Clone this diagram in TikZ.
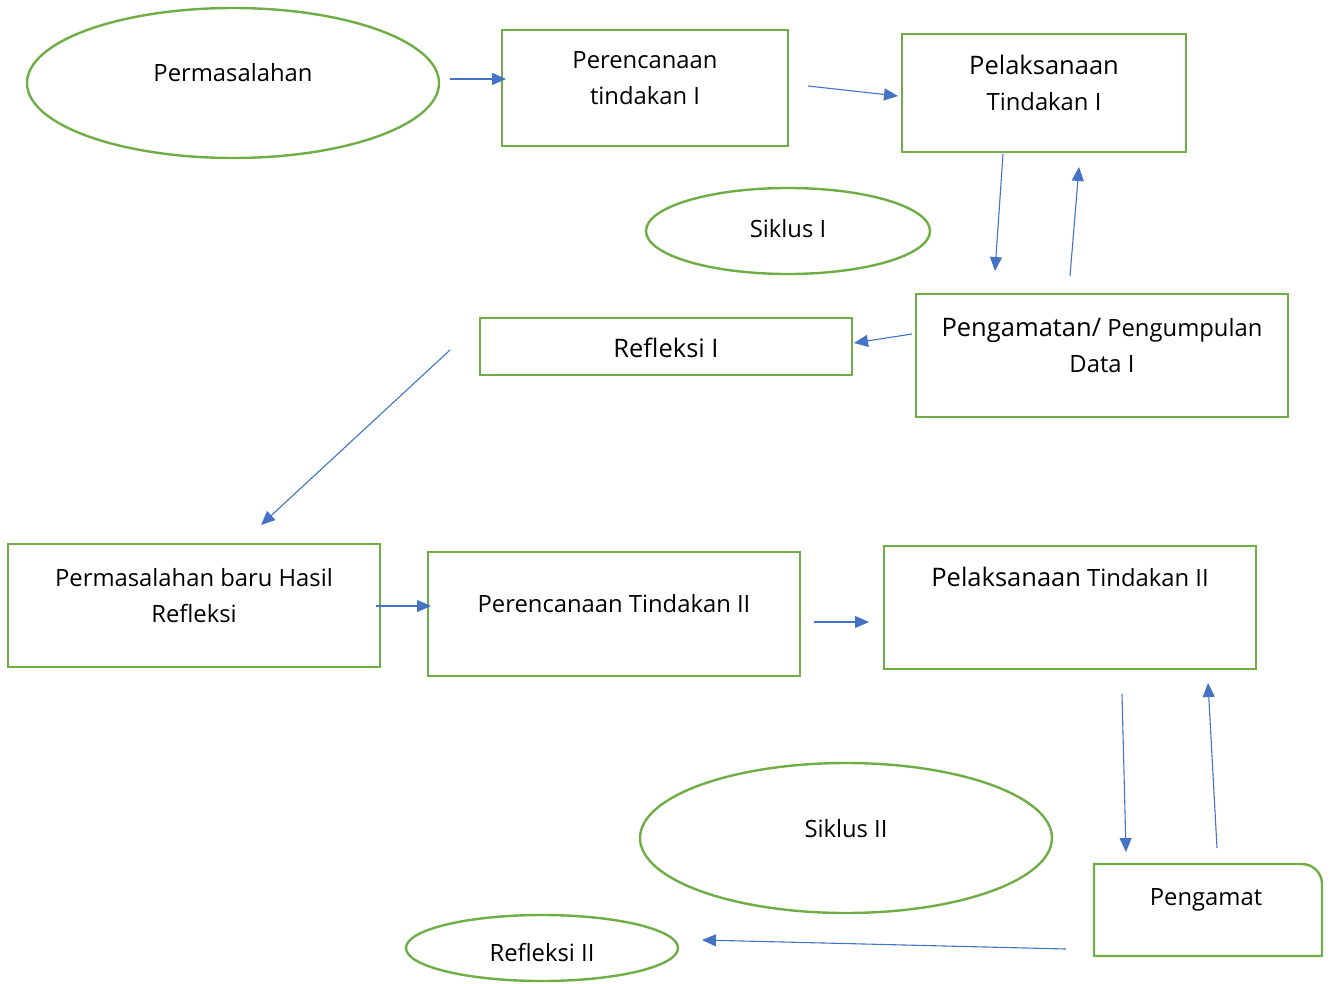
\documentclass[tikz,border=0pt]{standalone}
\usepackage{fontspec}
\setmainfont{Open Sans}
\usetikzlibrary{arrows.meta,shapes.geometric}
\definecolor{gr}{HTML}{70AD47}
\definecolor{bl}{HTML}{4472C4}
\begin{document}
\begin{tikzpicture}[x=1pt,y=-1pt,
  box/.style={draw=gr,line width=2.4pt,rectangle,inner sep=0pt},
  ell/.style={draw=gr,line width=2.4pt,ellipse,inner sep=0pt},
  txt/.style={inner sep=0pt,align=center,font=\fontsize{23.8}{36}\selectfont},
  big/.style={font=\fontsize{25.5}{36}\selectfont},
  arr/.style={draw=bl,line width=1.1pt,-{Triangle[length=14pt,width=12pt]}}]
\useasboundingbox (0,0) rectangle (1330,984);
% shapes
\node[ell,minimum width=412pt,minimum height=150pt] (e1) at (233,83) {};
\node[box,minimum width=286pt,minimum height=116pt] (b1) at (645,88) {};
\node[box,minimum width=284pt,minimum height=118pt] (b2) at (1044,93) {};
\node[ell,minimum width=284pt,minimum height=86pt] (e2) at (788,231) {};
\node[box,minimum width=372pt,minimum height=123pt] (b3) at (1102,355.5) {};
\node[box,minimum width=372pt,minimum height=57pt] (b4) at (666,346.5) {};
\node[box,minimum width=372pt,minimum height=123pt] (b5) at (194,605.5) {};
\node[box,minimum width=372pt,minimum height=124pt] (b6) at (614,614) {};
\node[box,minimum width=372pt,minimum height=123pt] (b7) at (1070,607.5) {};
\node[ell,minimum width=412pt,minimum height=150pt] (e3) at (846,838) {};
\node[ell,minimum width=272pt,minimum height=66pt] (e4) at (542,948) {};
\draw[draw=gr,line width=2.4pt] (1094,864) -- (1302,864) arc[start angle=90,end angle=0,radius=20pt] -- (1322,956) -- (1094,956) -- cycle;
\coordinate (b8) at (1208,910);
% texts
\node[txt] (t1) at (233,73) {Permasalahan};
\node[txt] (t2) at (645,78) {Perencanaan\\tindakan I};
\node[txt] (t3) at (1044,83) {{\fontsize{25.5}{36}\selectfont Pelaksanaan}\\Tindakan I};
\node[txt] (t4) at (788,229) {Siklus I};
\node[txt] (t5) at (1102,346) {{\fontsize{25.5}{36}\selectfont Pengamatan/} Pengumpulan\\Data I};
\node[txt,big] (t6) at (666,348) {Refleksi I};
\node[txt] (t7) at (194,596) {Permasalahan baru Hasil\\Refleksi};
\node[txt] (t8) at (614,604) {Perencanaan Tindakan II};
\node[txt] (t9) at (1070,577) {{\fontsize{25.5}{36}\selectfont Pelaksanaan} Tindakan II};
\node[txt] (t10) at (846,829) {Siklus II};
\node[txt] (t11) at (1206,900) {Pengamat};
\node[txt] (t12) at (542,953) {Refleksi II};
% arrow endpoints
\coordinate (a1s) at (450,79); \coordinate (a1e) at (506,79);
\coordinate (a2s) at (808,86); \coordinate (a2e) at (898,96);
\coordinate (a3s) at (1003,154); \coordinate (a3e) at (995,271);
\coordinate (a4s) at (1070,276); \coordinate (a4e) at (1079,167);
\coordinate (a5s) at (912,334); \coordinate (a5e) at (854,343);
\coordinate (a6s) at (450,350); \coordinate (a6e) at (261,525);
\coordinate (a7s) at (376,606); \coordinate (a7e) at (431,606);
\coordinate (a8s) at (814,622); \coordinate (a8e) at (869,622);
\coordinate (a9s) at (1122,694); \coordinate (a9e) at (1126,852);
\coordinate (a10s) at (1217,848); \coordinate (a10e) at (1208,683);
\coordinate (a11s) at (1066,949); \coordinate (a11e) at (702,940);
\foreach \i in {1,...,11} \draw[arr] (a\i s) -- (a\i e);
\end{tikzpicture}
\end{document}
